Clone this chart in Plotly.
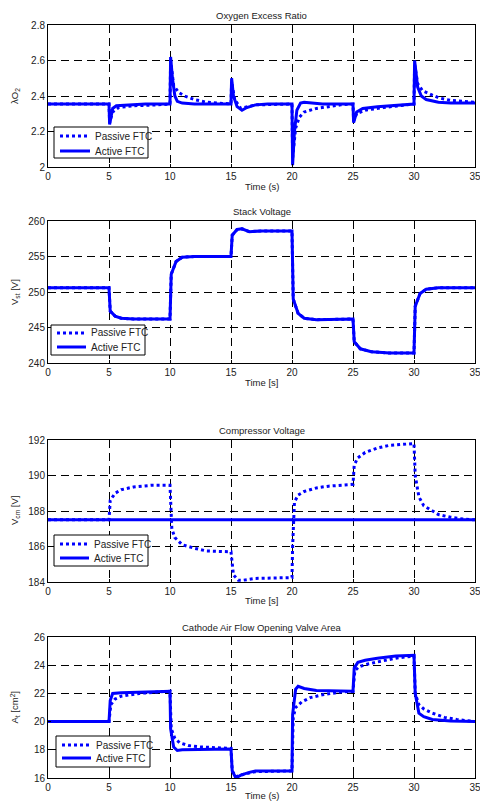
import plotly.graph_objects as go

# ---------------- data ----------------
x_ticks = [0, 5, 10, 15, 20, 25, 30, 35]
legend_names = ["Passive FTC", "Active FTC"]

# Oxygen excess ratio
t_o2_active = [0, 5.0, 5.05, 5.3, 5.6, 6.5, 8, 10.0, 10.05, 10.2, 10.4, 10.6, 11, 12, 15.0, 15.05, 15.2, 15.5,
               15.9, 16.3, 17, 18, 20.0, 20.05, 20.2, 20.4, 20.7, 21, 22, 22.5, 25.0, 25.05, 25.3, 25.8, 27, 30.0,
               30.05, 30.3, 30.6, 31, 32, 33, 35]
o2_active = [2.355, 2.355, 2.24, 2.33, 2.345, 2.35, 2.355, 2.355, 2.62, 2.50, 2.40, 2.37, 2.36, 2.355, 2.355, 2.50,
             2.40, 2.34, 2.32, 2.335, 2.35, 2.355, 2.355, 2.01, 2.20, 2.32, 2.36, 2.365, 2.36, 2.355, 2.355, 2.25,
             2.31, 2.33, 2.34, 2.355, 2.60, 2.45, 2.40, 2.38, 2.365, 2.36, 2.36]
t_o2_passive = [0, 5.0, 5.05, 5.3, 5.8, 7, 9, 10.0, 10.05, 10.3, 10.7, 11.2, 12, 13, 14, 15.0, 15.05, 15.3, 15.8,
                16.3, 17, 20.0, 20.05, 20.3, 20.6, 21, 22, 23, 24, 25.0, 25.05, 25.3, 26, 27.5, 29, 30.0, 30.05,
                30.3, 30.7, 31.3, 32, 33, 34, 35]
o2_passive = [2.355, 2.355, 2.25, 2.31, 2.335, 2.345, 2.35, 2.355, 2.60, 2.46, 2.42, 2.40, 2.38, 2.365, 2.36, 2.355,
              2.48, 2.38, 2.33, 2.34, 2.35, 2.355, 2.05, 2.22, 2.28, 2.31, 2.33, 2.34, 2.35, 2.355, 2.26, 2.30, 2.32,
              2.335, 2.345, 2.355, 2.58, 2.47, 2.43, 2.41, 2.39, 2.375, 2.37, 2.365]

# Stack voltage
t_vst = [0, 5.0, 5.1, 5.5, 6, 7, 10.0, 10.1, 10.5, 11, 12, 15.0, 15.1, 15.5, 15.9, 16.5, 17.5, 20.0, 20.1, 20.5,
         21, 22, 25.0, 25.1, 25.6, 26.5, 28, 30.0, 30.1, 30.5, 31, 32, 35]
vst_active = [250.6, 250.6, 247.3, 246.6, 246.3, 246.2, 246.2, 252.5, 254.3, 254.9, 255.0, 255.0, 258.0, 258.8,
              258.9, 258.5, 258.6, 258.6, 249.0, 247.0, 246.3, 246.1, 246.2, 243.0, 242.0, 241.6, 241.4, 241.4,
              248.0, 249.8, 250.4, 250.6, 250.6]
vst_passive = [250.6, 250.6, 247.3, 246.6, 246.3, 246.2, 246.2, 252.5, 254.3, 254.9, 255.0, 255.0, 258.0, 258.8,
               258.9, 258.5, 258.6, 258.6, 249.0, 247.0, 246.3, 246.1, 246.2, 243.0, 242.0, 241.6, 241.4, 241.4,
               248.0, 249.8, 250.4, 250.6, 250.6]

# Compressor voltage
t_vcm_active = [0, 35]
vcm_active = [187.5, 187.5]
t_vcm_passive = [0, 5.0, 5.1, 5.5, 6, 7, 8.5, 10.0, 10.15, 10.4, 11, 12, 13, 15.0, 15.2, 15.6, 16, 17, 20.0, 20.05,
                 20.2, 20.5, 21, 22, 23, 25.0, 25.1, 25.4, 26, 27, 28, 30.0, 30.1, 30.4, 30.8, 31.5, 32, 33, 34, 35]
vcm_passive = [187.5, 187.5, 188.6, 189.0, 189.2, 189.35, 189.45, 189.45, 187.0, 186.5, 186.1, 185.9, 185.75, 185.7,
               184.4, 184.1, 184.1, 184.2, 184.25, 186.0, 188.5, 188.9, 189.1, 189.3, 189.4, 189.5, 190.6, 191.0,
               191.3, 191.55, 191.7, 191.8, 190.0, 188.8, 188.3, 188.0, 187.8, 187.65, 187.55, 187.5]

# Cathode air flow opening valve area
t_at_active = [0, 5.0, 5.1, 5.3, 6, 8, 10.0, 10.05, 10.3, 10.6, 11, 15.0, 15.1, 15.4, 15.8, 16.5, 17, 20.0, 20.05,
               20.3, 20.5, 21, 22, 25.0, 25.1, 25.4, 26, 27, 28.5, 30.0, 30.1, 30.4, 30.8, 31.5, 33, 35]
at_active = [20.0, 20.0, 21.5, 22.0, 22.05, 22.1, 22.15, 19.5, 18.2, 17.95, 18.0, 18.05, 16.5, 16.0, 16.2, 16.4,
             16.5, 16.5, 20.5, 22.3, 22.5, 22.35, 22.2, 22.15, 23.8, 24.2, 24.35, 24.5, 24.65, 24.7, 22.0, 20.6,
             20.35, 20.15, 20.05, 20.0]
t_at_passive = [0, 5.0, 5.15, 5.5, 6, 7.5, 9, 10.0, 10.1, 10.4, 10.8, 11.5, 12.5, 15.0, 15.1, 15.4, 16, 17, 20.0,
                20.1, 20.3, 20.8, 21.5, 22.5, 24, 25.0, 25.15, 25.5, 26.3, 27.3, 28.5, 30.0, 30.1, 30.4, 30.8, 31.5,
                32.5, 33.5, 35]
at_passive = [20.0, 20.0, 21.2, 21.6, 21.8, 22.0, 22.1, 22.15, 19.5, 18.8, 18.5, 18.3, 18.2, 18.1, 16.5, 16.1,
              16.25, 16.45, 16.5, 20.3, 21.0, 21.4, 21.7, 21.9, 22.1, 22.15, 23.6, 23.9, 24.1, 24.3, 24.5, 24.65,
              22.0, 21.2, 20.9, 20.6, 20.3, 20.15, 20.0]

titles = ["Oxygen Excess Ratio", "Stack Voltage", "Compressor Voltage", "Cathode Air Flow Opening Valve Area"]
ytitles = ["λO<sub>2</sub>", "V<sub>st</sub> [V]", "V<sub>cm</sub> [V]", "A<sub>t</sub> [cm<sup>2</sup>]"]
xtitles = ["Time (s)", "Time [s]", "Time [s]", "Time (s)"]
yranges = [[2, 2.8], [240, 260], [184, 192], [16, 26]]
ydticks = [0.2, 5, 2, 2]

series = [
    (t_o2_passive, o2_passive, t_o2_active, o2_active),
    (t_vst, vst_passive, t_vst, vst_active),
    (t_vcm_passive, vcm_passive, t_vcm_active, vcm_active),
    (t_at_passive, at_passive, t_at_active, at_active),
]

# ---------------- layout geometry (pixels) ----------------
W, H = 480, 802
x_left, x_right = 48, 475
plot_px = [(25, 167), (221, 363), (440, 582), (637, 778)]
xtitle_px = [186, 383, 600, 795]
# legend box: left, top, right, bottom, line-sample x0, x1, text x, row1 y, row2 y
legend_px = [(54, 127, 148, 158, 60, 90, 93, 136, 151),
             (51, 325, 145, 355, 57, 86, 89, 333, 347),
             (54, 535, 148, 566, 60, 89, 92, 544, 558),
             (56, 736, 150, 767, 62, 91, 94, 745, 758)]
FONT = "Liberation Sans, Arial, Helvetica, sans-serif"
TXT = "#222222"
BLUE = "#0000ff"
DOT = "3px,3px"


def py(p):
    return 1 - p / H


def px(p):
    return p / W


fig = go.Figure()
layout = dict(
    width=W, height=H, autosize=False,
    margin=dict(l=0, r=0, t=0, b=0, autoexpand=False),
    paper_bgcolor="white", plot_bgcolor="white",
    font=dict(family=FONT, size=10, color=TXT),
    showlegend=False,
    annotations=[], shapes=[],
)

for i in range(4):
    n = "" if i == 0 else str(i + 1)
    tp, vp, ta, va = series[i]
    fig.add_trace(go.Scatter(x=tp, y=vp, mode="lines", name=legend_names[0],
                             line=dict(color=BLUE, width=3, dash=DOT),
                             xaxis=f"x{n}", yaxis=f"y{n}"))
    fig.add_trace(go.Scatter(x=ta, y=va, mode="lines", name=legend_names[1],
                             line=dict(color=BLUE, width=3),
                             xaxis=f"x{n}", yaxis=f"y{n}"))
    top, bot = plot_px[i]
    axcommon = dict(showline=True, mirror=True, linecolor="black", linewidth=1,
                    showgrid=True, gridcolor="black", gridwidth=1, griddash="8px,5px",
                    ticks="inside", ticklen=3, tickcolor="black", zeroline=False,
                    automargin=False, ticklabeloverflow="allow",
                    tickfont=dict(family=FONT, size=10, color=TXT))
    layout[f"xaxis{n}"] = dict(axcommon, domain=[px(x_left), px(x_right)], range=[0, 35],
                               tickvals=x_ticks, anchor=f"y{n}")
    layout[f"yaxis{n}"] = dict(axcommon, domain=[py(bot), py(top)], range=yranges[i],
                               dtick=ydticks[i], tick0=yranges[i][0], anchor=f"x{n}")
    cx = (x_left + x_right) / 2
    layout["annotations"] += [
        dict(text=titles[i], x=px(cx), y=py(top - 10), xref="paper", yref="paper",
             showarrow=False, xanchor="center", yanchor="middle",
             font=dict(family=FONT, size=9.5, color=TXT)),
        dict(text=xtitles[i], x=px(cx), y=py(xtitle_px[i]), xref="paper", yref="paper",
             showarrow=False, xanchor="center", yanchor="middle",
             font=dict(family=FONT, size=9.5, color=TXT)),
        dict(text=ytitles[i], x=px(15), y=py((top + bot) / 2), xref="paper", yref="paper",
             showarrow=False, xanchor="center", yanchor="middle", textangle=-90,
             font=dict(family=FONT, size=9.5, color=TXT)),
    ]
    # legend (drawn as a box with line samples and labels)
    L, T, R, B, lx0, lx1, tx, r1, r2 = legend_px[i]
    layout["shapes"] += [
        dict(type="rect", xref="paper", yref="paper", x0=px(L), x1=px(R), y0=py(B), y1=py(T),
             line=dict(color="black", width=1), fillcolor="white", layer="above"),
        dict(type="line", xref="paper", yref="paper", x0=px(lx0), x1=px(lx1), y0=py(r1), y1=py(r1),
             line=dict(color=BLUE, width=3, dash=DOT), layer="above"),
        dict(type="line", xref="paper", yref="paper", x0=px(lx0), x1=px(lx1), y0=py(r2), y1=py(r2),
             line=dict(color=BLUE, width=3), layer="above"),
    ]
    for name, ry in zip(legend_names, (r1, r2)):
        layout["annotations"].append(
            dict(text=name, x=px(tx), y=py(ry), xref="paper", yref="paper", showarrow=False,
                 xanchor="left", yanchor="middle", font=dict(family=FONT, size=10, color=TXT)))

fig.update_layout(**layout)
fig.write_html("out.html", config={"displayModeBar": False},
               post_script="document.body.style.margin='0';document.body.style.overflow='hidden';")
